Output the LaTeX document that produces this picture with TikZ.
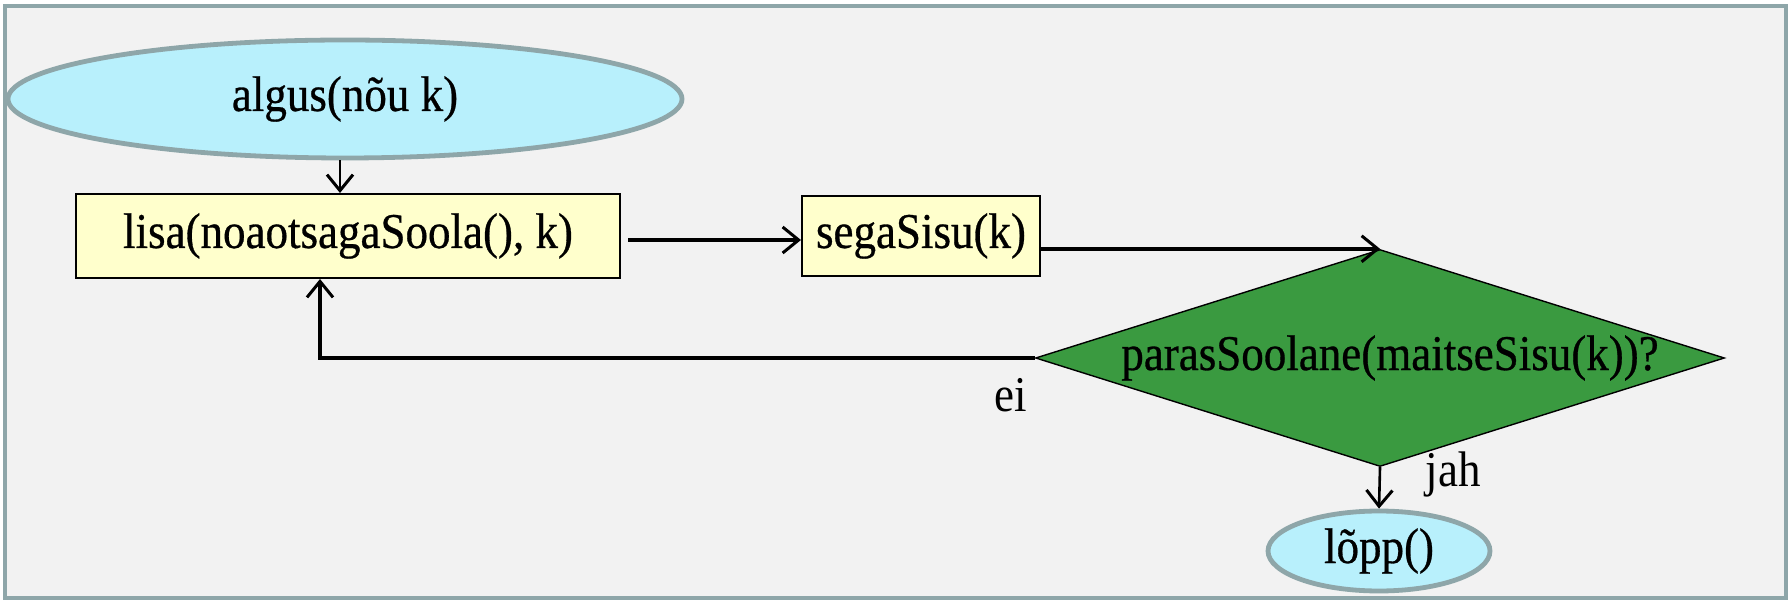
\documentclass[tikz,border=0pt]{standalone}
\usepackage{fontspec}
\setmainfont[FakeStretch=0.9,FakeBold=0.6]{Liberation Serif}
\newfontfamily\plainserif[FakeStretch=0.9]{Liberation Serif}
\usetikzlibrary{shapes.geometric,arrows.meta}
\definecolor{framegray}{HTML}{8EA6A9}
\definecolor{paper}{HTML}{F2F2F2}
\definecolor{startcyan}{HTML}{B8F0FC}
\definecolor{boxyellow}{HTML}{FFFFCC}
\definecolor{decgreen}{HTML}{3A9A40}
\tikzset{
  terminal/.style={ellipse, draw=framegray, line width=2.4pt, fill=startcyan, inner sep=0pt},
  action/.style={rectangle, draw=black, line width=1pt, fill=boxyellow, inner sep=0pt},
  decision/.style={diamond, draw=black, line width=0.7pt, fill=decgreen, inner sep=0pt},
  flow/.style={line width=1.9pt, -{Straight Barb[length=8pt,width=13pt,line width=1.5pt]}},
  lbl/.style={font=\plainserif\fontsize{25}{28}\selectfont},
}
\begin{document}
\begin{tikzpicture}[x=0.5pt,y=-0.5pt,font=\fontsize{25}{28}\selectfont]
\useasboundingbox (0,0) rectangle (1791,603);
\fill[white] (0,0) rectangle (1791,603);
\draw[framegray, line width=2pt, fill=paper] (5,6) rectangle (1786,598);

\node[terminal, minimum width=337pt, minimum height=59pt] (start) at (345,99) {algus(nõu k)};
\node[action, minimum width=272pt, minimum height=42pt] (add) at (348,236) {lisa(noaotsagaSoola(), k)};
\node[action, minimum width=119pt, minimum height=40pt] (mix) at (921,236) {segaSisu(k)};
\node[decision, minimum width=344.5pt, minimum height=108.5pt] (check) at (1380,358) {};
\node at (1390,358) {parasSoolane(maitseSisu(k))?};
\node[terminal, minimum width=111pt, minimum height=40pt] (stop) at (1379,551) {lõpp()};

\draw[flow, line width=1.3pt] (start.south -| 340,0) -- (add.north -| 340,0);
\draw[flow] ([xshift=3.5pt,yshift=-2pt]add.east) -- ([yshift=-2pt]mix.west);
\draw[flow] (mix.east |- check.north) -- (check.north);
\draw[flow] (check.west) -| ([xshift=-14pt]add.south);
\draw[flow, line width=1.3pt] (check.south) -- (stop.north);

\node[lbl] (no) at (1011,395) {ei};
\node[lbl] (yes) at (1453,474) {jah};
\end{tikzpicture}
\end{document}
